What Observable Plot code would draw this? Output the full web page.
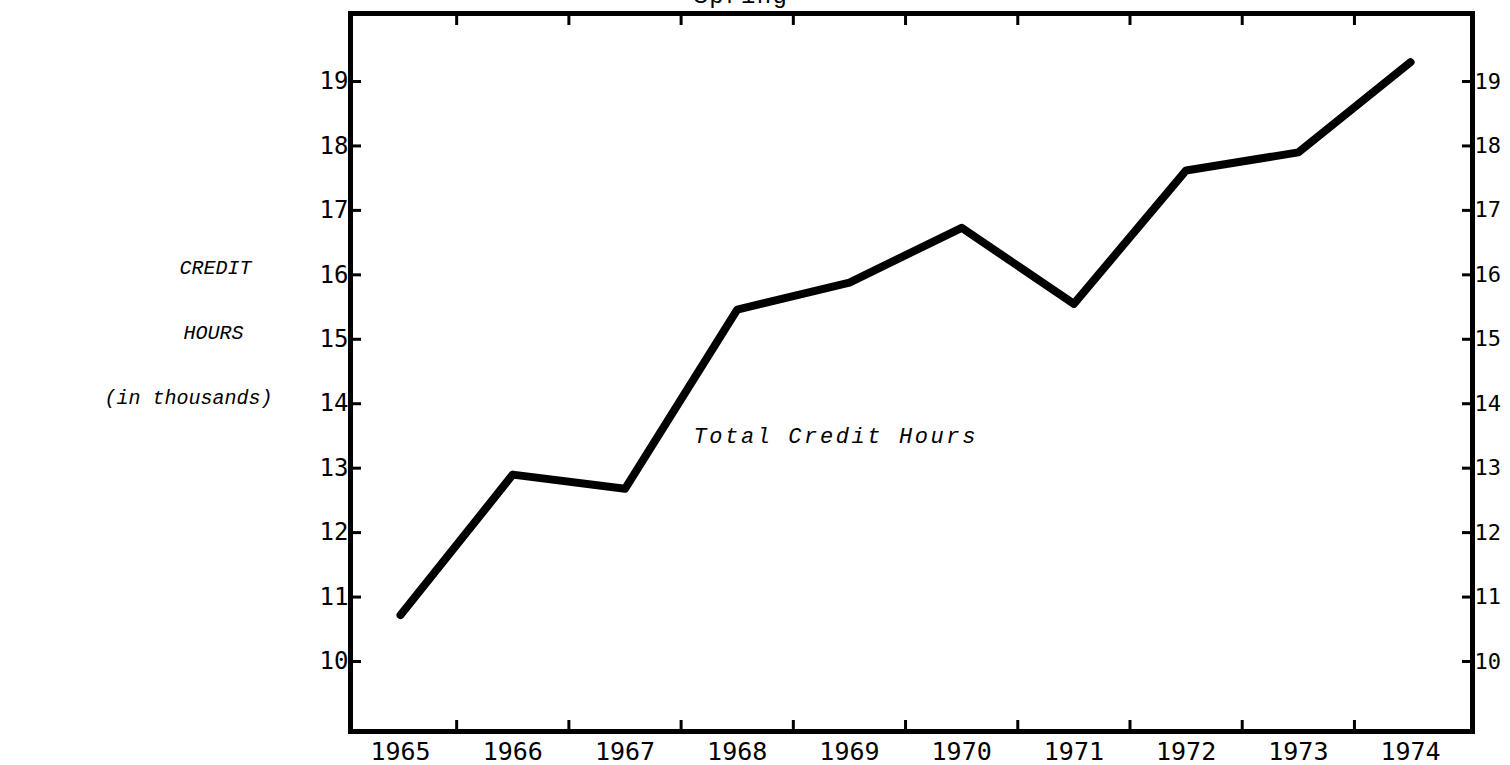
<!DOCTYPE html>
<html><head><meta charset="utf-8">
<script src="https://cdn.jsdelivr.net/npm/d3@7"></script>
<script src="https://cdn.jsdelivr.net/npm/@observablehq/plot@0.6"></script>
<style>html,body{margin:0;padding:0;background:#fff;overflow:hidden} #chart svg{display:block}</style>
</head><body><div id="chart"></div>
<script>
// ---- data ----
const years = [1965, 1966, 1967, 1968, 1969, 1970, 1971, 1972, 1973, 1974];
const hours = [10.72, 12.9, 12.68, 15.46, 15.88, 16.73, 15.55, 17.62, 17.9, 19.3];
const yTicks = [10, 11, 12, 13, 14, 15, 16, 17, 18, 19];
const xTickPositions = [1965.5, 1966.5, 1967.5, 1968.5, 1969.5, 1970.5, 1971.5, 1972.5, 1973.5];
const seriesLabel = ["Total Credit Hours"];
const axisTitleLines = ["CREDIT", "HOURS", "(in thousands)"];
const topFragment = ["Spring"];

const data = years.map((year, i) => ({year, hours: hours[i]}));

const tickFont = "'DejaVu Sans Mono', monospace";
const typeFont = "'Liberation Mono', 'Courier New', monospace";

// offsets from the frame's left-middle anchor (x = 350, y = 372)
const titleOffsets = [
  {dx: -135, dy: -105},
  {dx: -137, dy: -40},
  {dx: -162, dy: 25}
];

const chart = Plot.plot({
  width: 1510,
  height: 765,
  marginLeft: 350,
  marginRight: 38,
  marginTop: 13,
  marginBottom: 34,
  style: {background: "#fff", color: "#000", fontFamily: tickFont, fontSize: "24px", overflow: "visible"},
  x: {domain: [1964.554, 1974.552]},
  y: {domain: [8.914, 20.055]},
  marks: [
    Plot.axisY(yTicks, {anchor: "left", tickSize: 11, dx: 11, tickPadding: 2, strokeWidth: 3, label: null, fontSize: 24, tickFormat: d3.format("d")}),
    Plot.axisY(yTicks, {anchor: "right", tickSize: 11, dx: -11, tickPadding: 2, strokeWidth: 3, label: null, fontSize: 22, tickFormat: d3.format("d")}),
    Plot.axisX(xTickPositions, {anchor: "bottom", tickSize: 11, dy: -11, strokeWidth: 3, fill: "none", label: null}),
    Plot.axisX(xTickPositions, {anchor: "top", tickSize: 11, dy: 11, strokeWidth: 3, fill: "none", label: null}),
    Plot.axisX(years, {anchor: "bottom", tickSize: 0, tickPadding: 11, tickFormat: d3.format("d"), label: null, fontSize: 25}),
    Plot.frame({stroke: "#000", strokeWidth: 5}),
    Plot.line(data, {x: "year", y: "hours", stroke: "#000", strokeWidth: 8, strokeLinecap: "round", strokeLinejoin: "round"}),
    Plot.text(seriesLabel, {text: d => d, frameAnchor: "top-left", dx: 343, dy: 414, textAnchor: "start", lineAnchor: "top", fontFamily: typeFont, fontStyle: "italic", fontSize: 22, fill: "#000"}),
    ...axisTitleLines.map((t, i) => Plot.text([t], {text: d => d, frameAnchor: "left", dx: titleOffsets[i].dx, dy: titleOffsets[i].dy, textAnchor: "middle", fontFamily: typeFont, fontStyle: "italic", fontSize: 20, fill: "#000"})),
    Plot.text(topFragment, {text: d => d, frameAnchor: "top-left", dx: 343, dy: -28, textAnchor: "start", lineAnchor: "top", fontFamily: typeFont, fontSize: 24, fill: "#000"})
  ]
});

// typewriter pitch for the series label and the clipped heading
const texts = chart.querySelectorAll('g[aria-label="text"] text');
texts.forEach(t => {
  const s = t.textContent;
  if (s === seriesLabel[0]) t.style.letterSpacing = "2.6px";
  if (s === topFragment[0]) t.style.letterSpacing = "1.4px";
});
document.getElementById("chart").appendChild(chart);
</script>
</body></html>
